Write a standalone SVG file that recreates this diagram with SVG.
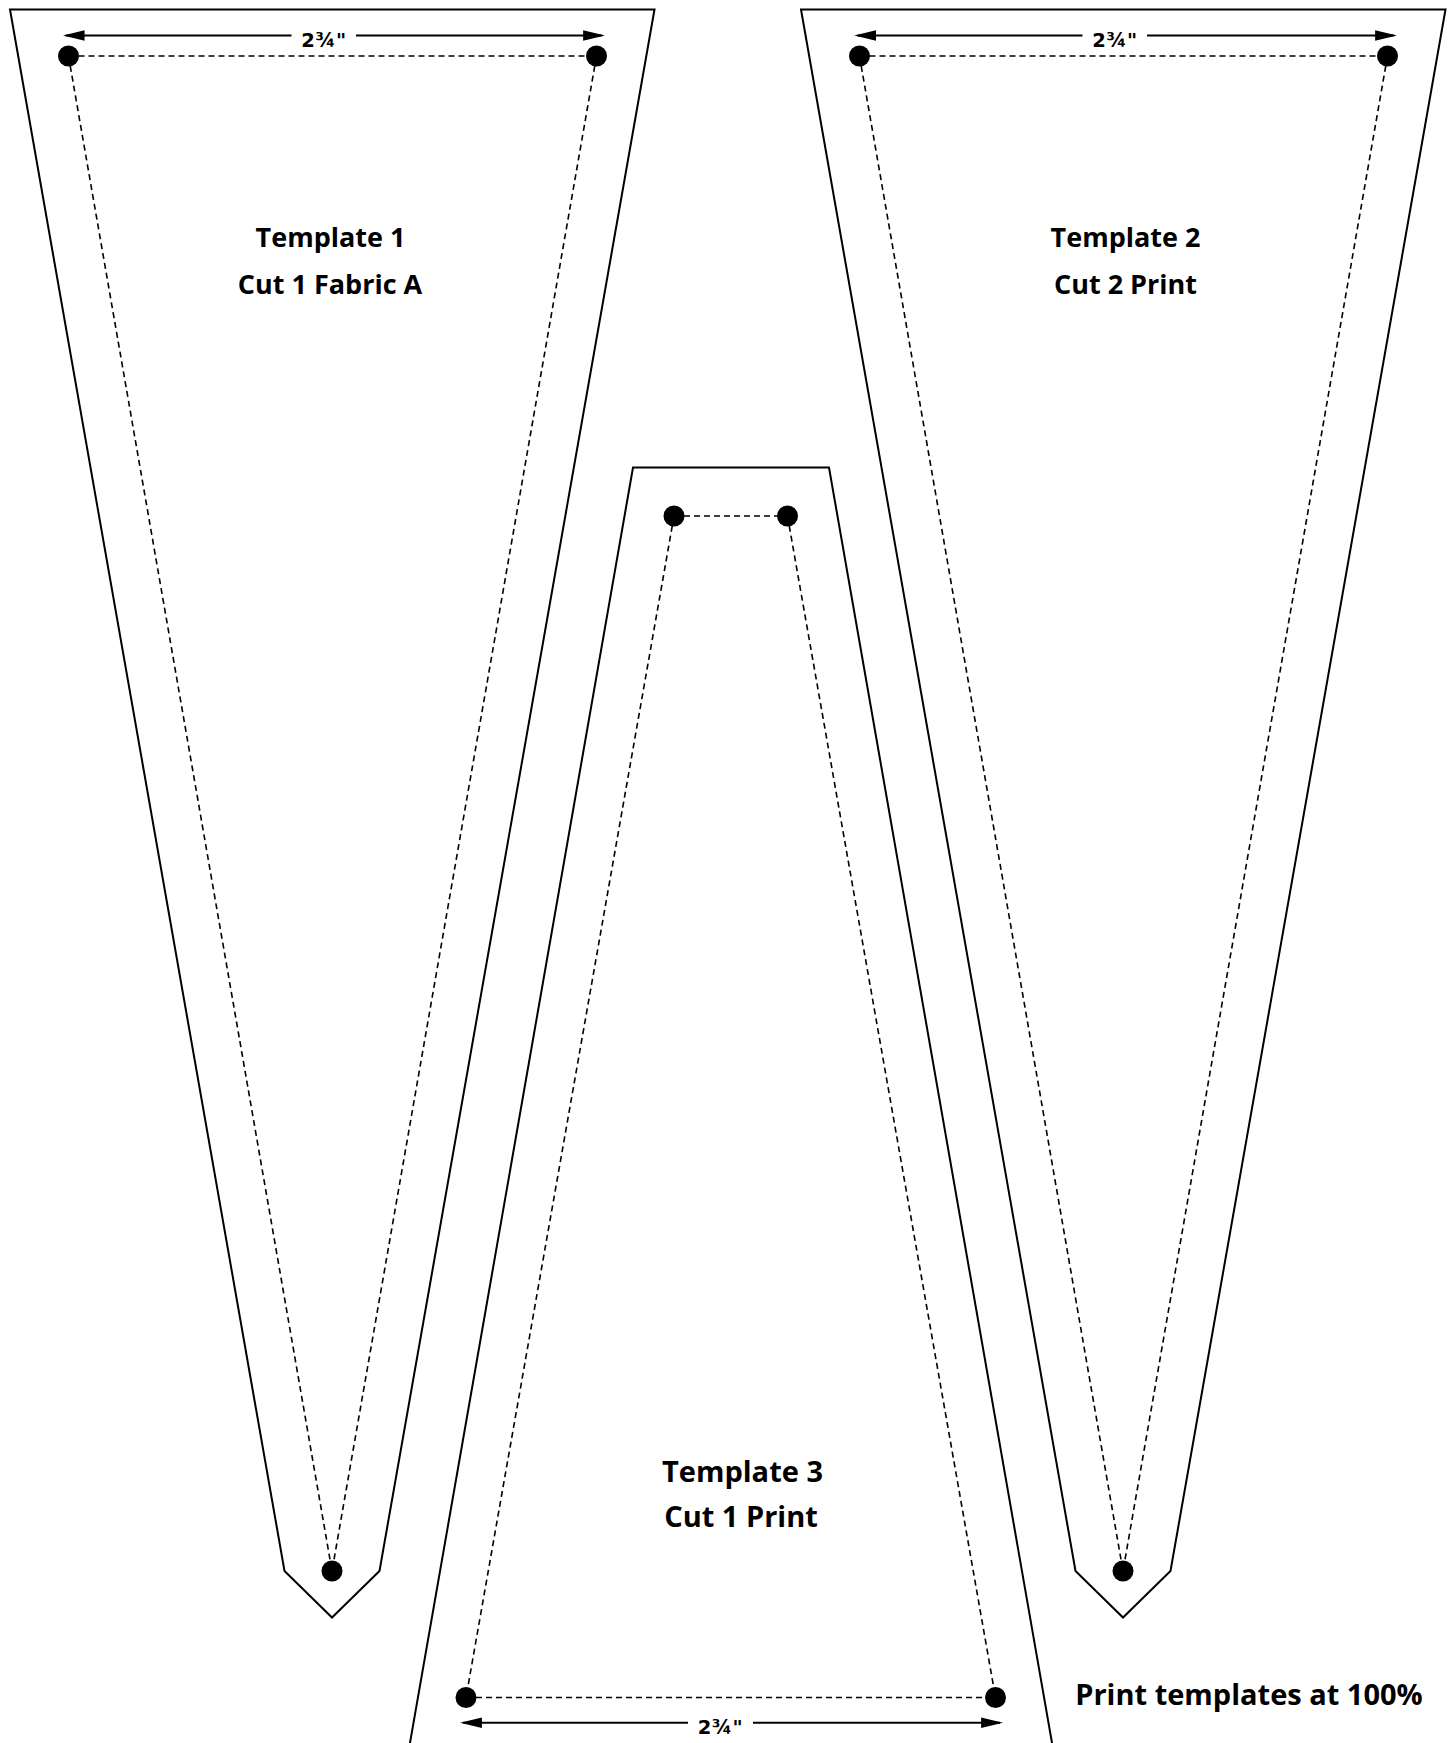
<svg xmlns="http://www.w3.org/2000/svg" width="1454" height="1743" viewBox="0 0 1454 1743">
  <defs>
    <marker id="arrow" markerUnits="userSpaceOnUse" markerWidth="22" markerHeight="11" refX="18" refY="5" orient="auto" viewBox="0 0 21 10">
      <path d="M0,0 L21,5 L0,10 Z" fill="#000"/>
    </marker>
    <style>
      .outline { fill: none; stroke: #000; stroke-width: 2; stroke-linejoin: miter; }
      .seam { fill: none; stroke: #000; stroke-width: 1.6; stroke-dasharray: 6 4; }
      .dot { fill: #000; }
      .dim { fill: none; stroke: #000; stroke-width: 2; marker-end: url(#arrow); }
      .dimtext { font-family: "DejaVu Sans", "Liberation Sans", sans-serif; font-weight: bold; font-size: 19.5px; letter-spacing: 0.5px; fill: #000; text-anchor: middle; }
      .label { font-family: "Open Sans", "Noto Sans", sans-serif; font-weight: bold; fill: #000; text-anchor: middle; }
      .l1 { font-size: 27px; }
      .l3 { font-size: 29px; }
    </style>
  </defs>
  <rect x="0" y="0" width="1454" height="1743" fill="#fff"/>

  <g id="template-1">
    <path class="outline" d="M10,9.5 H654.5 L379.5,1571 L332,1617.5 L284.5,1571 Z"/>
    <text class="label l1" x="330.5" y="246.5">Template 1</text>
    <text class="label l1" x="330" y="294">Cut 1 Fabric A</text>
  </g>

  <g id="template-2">
    <path class="outline" d="M801,9.5 H1445.5 L1170.5,1571 L1123,1617.5 L1075.5,1571 Z"/>
    <text class="label l1" x="1125.5" y="246.5">Template 2</text>
    <text class="label l1" x="1125.5" y="294">Cut 2 Print</text>
  </g>

  <g id="template-3">
    <path class="outline" d="M407,1760 L633,467.5 H829 L1055,1760"/>
    <text class="label l3" x="742.5" y="1481.5">Template 3</text>
    <text class="label l3" x="741" y="1527">Cut 1 Print</text>
  </g>

  <g id="note">
    <text class="label l3" x="1249" y="1705">Print templates at 100%</text>
  </g>

  <g id="connectors">
    <path class="seam" d="M68.5,56 H596.5"/>
    <path class="seam" d="M68.5,56 L332,1571"/>
    <path class="seam" d="M596.5,56 L332,1571"/>
    <path class="seam" d="M859.5,56 H1387.5"/>
    <path class="seam" d="M859.5,56 L1123,1571"/>
    <path class="seam" d="M1387.5,56 L1123,1571"/>
    <path class="seam" d="M674,516 H787.5"/>
    <path class="seam" d="M674,516 L466,1697.5"/>
    <path class="seam" d="M787.5,516 L995.5,1697.5"/>
    <path class="seam" d="M466,1697.5 H995.5"/>

    <path class="dim" d="M291.5,35.5 H65.7"/>
    <path class="dim" d="M356,35.5 H602"/>
    <path class="dim" d="M1082.5,35.5 H857.4"/>
    <path class="dim" d="M1147,35.5 H1394"/>
    <path class="dim" d="M688,1722.7 H463"/>
    <path class="dim" d="M753,1722.7 H1000"/>
  </g>

  <g id="dimension-labels">
    <text class="dimtext" x="324" y="46.5">2¾"</text>
    <text class="dimtext" x="1115" y="46.5">2¾"</text>
    <text class="dimtext" x="720.5" y="1733.8">2¾"</text>
  </g>

  <g id="dots">
    <circle class="dot" cx="68.5" cy="56" r="10.5"/>
    <circle class="dot" cx="596.5" cy="56" r="10.5"/>
    <circle class="dot" cx="332" cy="1571" r="10.5"/>
    <circle class="dot" cx="859.5" cy="56" r="10.5"/>
    <circle class="dot" cx="1387.5" cy="56" r="10.5"/>
    <circle class="dot" cx="1123" cy="1571" r="10.5"/>
    <circle class="dot" cx="674" cy="516" r="10.5"/>
    <circle class="dot" cx="787.5" cy="516" r="10.5"/>
    <circle class="dot" cx="466" cy="1697.5" r="10.5"/>
    <circle class="dot" cx="995.5" cy="1697.5" r="10.5"/>
  </g>
</svg>
